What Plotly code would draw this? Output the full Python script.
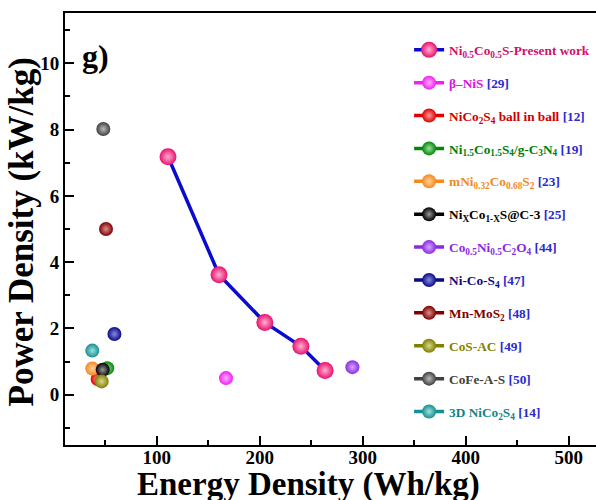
import plotly.graph_objects as go

# ---------------- data ----------------
present_x = [111, 160.5, 205, 240, 263.5]
present_y = [7.18, 3.62, 2.18, 1.46, 0.73]

ref_names = [
    "β–NiS", "NiCo<sub>2</sub>S<sub>4</sub> ball in ball",
    "Ni<sub>1.5</sub>Co<sub>1.5</sub>S<sub>4</sub>/g-C<sub>3</sub>N<sub>4</sub>",
    "mNi<sub>0.32</sub>Co<sub>0.68</sub>S<sub>2</sub>",
    "Ni<sub>X</sub>Co<sub>1-X</sub>S@C-3",
    "Co<sub>0.5</sub>Ni<sub>0.5</sub>C<sub>2</sub>O<sub>4</sub>",
    "Ni-Co-S<sub>4</sub>", "Mn-MoS<sub>2</sub>", "CoS-AC", "CoFe-A-S",
    "3D NiCo<sub>2</sub>S<sub>4</sub>",
]
ref_tags = ["[29]", "[12]", "[19]", "[23]", "[25]", "[44]", "[47]", "[48]", "[49]", "[50]", "[14]"]
ref_x = [167.3, 42.7, 52, 37.5, 47.6, 290, 59, 50.8, 46.6, 48.2, 37.5]
ref_y = [0.50, 0.47, 0.80, 0.79, 0.75, 0.83, 1.83, 5.0, 0.40, 8.02, 1.33]

x_ticks = [100, 200, 300, 400, 500]
y_ticks = [0, 2, 4, 6, 8, 10]

# ---------------- styles ----------------
ref_colors = ["#f21ef2", "#e00000", "#00880a", "#f5891e", "#000000", "#8a2be2",
              "#0a0a85", "#800000", "#808000", "#404040", "#159090"]
ref_light = ["#ffb0ff", "#ff9a9a", "#9ce09c", "#ffd0a0", "#9a9a9a", "#d4a8ff",
             "#8a8ae0", "#d89090", "#d8d890", "#bbbbbb", "#a0e0e0"]
ref_text = ["#e010e0", "#d00000", "#00800a", "#f08a1e", "#000000", "#8a2be2",
            "#0a0a85", "#800000", "#808000", "#404040", "#108585"]
tag_color = "#2a2ad0"
FONT = "Liberation Serif"

fig = go.Figure()

fig.add_trace(go.Scatter(
    x=present_x, y=present_y, mode="lines+markers",
    name=("<span style='color:#d0106e'>Ni<sub>0.5</sub>Co<sub>0.5</sub>S-Present work</span>"),
    line=dict(color="#0a0ad0", width=3.5),
    marker=dict(size=17, color="#e8106e", line=dict(width=0),
                gradient=dict(type="radial", color="#ffb0d0")),
    legendgroup="g0",
))

for i in range(len(ref_names)):
    fig.add_trace(go.Scatter(
        x=[ref_x[i]], y=[ref_y[i]], mode="lines+markers",
        name=f"<span style='color:{ref_text[i]}'>{ref_names[i]}</span> "
             f"<span style='color:{tag_color}'>{ref_tags[i]}</span>",
        line=dict(color=ref_colors[i], width=3.5),
        marker=dict(size=14, color=ref_colors[i], line=dict(width=0),
                    gradient=dict(type="radial", color=ref_light[i])),
        legendgroup=f"g{i+1}",
    ))

axis_common = dict(
    showline=True, linecolor="black", linewidth=2,
    ticks="inside", ticklen=9, tickwidth=2, tickcolor="black",
    showgrid=False, zeroline=False,
    tickfont=dict(family=FONT, size=19, color="black", weight="bold"),
)

fig.update_layout(
    width=596, height=500,
    margin=dict(l=65, r=0, t=13, b=55, autoexpand=False),
    paper_bgcolor="white", plot_bgcolor="white",
    font=dict(family=FONT, color="black"),
    xaxis=dict(range=[11, 526.5], tickvals=x_ticks, mirror=True,
               ticklabelstandoff=-6,
               minor=dict(dtick=50, tick0=0, ticks="inside", ticklen=5,
                          tickwidth=2, tickcolor="black"),
               **axis_common),
    yaxis=dict(range=[-1.52, 11.52], tickvals=y_ticks, mirror=False,
               minor=dict(dtick=1, tick0=0, ticks="inside", ticklen=5,
                          tickwidth=2, tickcolor="black"),
               **axis_common),
    legend=dict(x=0.648, y=0.95, xanchor="left", yanchor="top",
                bgcolor="rgba(0,0,0,0)", borderwidth=0,
                font=dict(family=FONT, size=13.3, weight="bold"),
                tracegroupgap=12.6),
    showlegend=True,
    annotations=[
        dict(text="<b>g)</b>", xref="paper", yref="paper", x=0.028, y=0.9,
             xanchor="left", yanchor="middle", showarrow=False,
             font=dict(family=FONT, size=32, color="black")),
        dict(text="<b>Energy Density (Wh/kg)</b>", xref="paper", yref="paper",
             x=(308 - 65) / 531, y=-0.092, xanchor="center", yanchor="middle",
             showarrow=False, font=dict(family=FONT, size=33, color="black")),
        dict(text="<b>Power Density (kW/kg)</b>", xref="paper", yref="paper",
             x=-0.082, y=(445 - 232) / 432, xanchor="center", yanchor="middle",
             textangle=-90, showarrow=False,
             font=dict(family=FONT, size=35, color="black")),
    ],
)

fig.write_html("out.html")
